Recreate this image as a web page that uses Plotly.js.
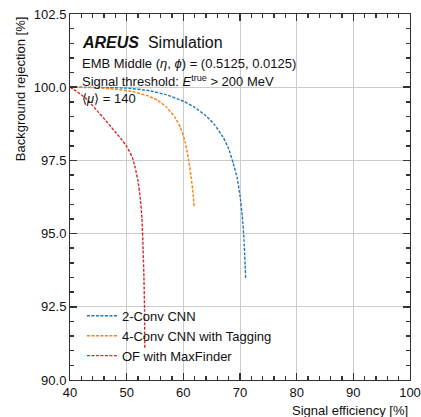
<!DOCTYPE html>
<html><head><meta charset="utf-8">
<script src="https://cdn.plot.ly/plotly-3.0.1.min.js"></script>
<style>html,body{margin:0;padding:0;background:#fff}#chart{width:421px;height:417px}</style>
</head><body><div id="chart"></div>
<script>
const seriesNames = ["2-Conv CNN", "4-Conv CNN with Tagging", "OF with MaxFinder"];
const seriesColors = ["#1f77b4", "#ff7f0e", "#d62728"];
const effConv2 = [40, 45, 50, 54, 57, 60, 62, 64, 65.5, 67, 68, 68.8, 69.5, 70, 70.4, 70.7, 71.0];
const rejConv2 = [100, 99.99, 99.97, 99.88, 99.74, 99.52, 99.31, 99.02, 98.72, 98.3, 97.9, 97.4, 96.9, 96.3, 95.6, 94.8, 93.45];
const effConv4 = [40, 45, 48, 51, 53.5, 55.5, 57, 58.5, 59.5, 60.3, 60.9, 61.4, 61.7, 61.9];
const rejConv4 = [100, 99.98, 99.93, 99.85, 99.72, 99.55, 99.32, 98.98, 98.62, 98.15, 97.55, 96.9, 96.4, 95.94];
const effOF = [40, 41, 42, 43, 44, 45, 46, 47, 48, 49, 50, 51, 51.5, 52, 52.4, 52.7, 52.9, 53.05, 53.15, 53.2];
const rejOF = [100, 99.88, 99.74, 99.58, 99.37, 99.15, 98.93, 98.7, 98.47, 98.24, 97.98, 97.6, 97.25, 96.8, 96.2, 95.5, 94.45, 93.5, 92.4, 91.1];
const xTitle = "Signal efficiency [%]";
const yTitle = "Background rejection [%]";
const infoLines = [
  '<b><i>AREUS</i></b>  Simulation',
  'EMB Middle (<i>η</i>, <i>ϕ</i>) = (0.5125, 0.0125)',
  'Signal threshold: <i>E</i><sup>true</sup> &gt; 200 MeV',
  '⟨<i>μ</i>⟩ = 140'
];

const xs = [effConv2, effConv4, effOF], ys = [rejConv2, rejConv4, rejOF];
const traces = xs.map((x, i) => ({
  x: x, y: ys[i], type: 'scatter', mode: 'lines', name: seriesNames[i],
  line: {color: seriesColors[i], width: 1.4, dash: '3px,1.5px', shape: 'spline', smoothing: 0.4}
}));
const F = 'Liberation Sans, Arial, sans-serif';
const titleAnns = [
  {xref: 'paper', yref: 'paper', x: 1, y: -0.057, xanchor: 'right', yanchor: 'top', showarrow: false,
   text: xTitle, font: {family: F, size: 13, color: '#111'}},
  {xref: 'paper', yref: 'paper', x: -0.145, y: 1, xanchor: 'center', yanchor: 'top', textangle: -90, showarrow: false,
   text: yTitle, font: {family: F, size: 13, color: '#111'}}
];
const infoY = [0.923, 0.866, 0.817, 0.77];
const infoSize = [16, 13, 13, 13];
const infoAnns = infoLines.map((t, i) => ({
  xref: 'paper', yref: 'paper', x: 0.03, y: infoY[i], xanchor: 'left', yanchor: 'middle', showarrow: false,
  text: t, font: {family: F, size: infoSize[i], color: '#111'}
}));
const layout = {
  width: 421, height: 417,
  margin: {l: 70, r: 11, t: 14, b: 37},
  paper_bgcolor: '#fff', plot_bgcolor: '#fff',
  font: {family: F, color: '#111'},
  showlegend: true,
  legend: {x: 0.035, y: 0.025, xanchor: 'left', yanchor: 'bottom', bgcolor: 'rgba(0,0,0,0)',
    font: {family: F, size: 13, color: '#111'}, tracegroupgap: 2, itemwidth: 30},
  xaxis: {range: [40, 100], dtick: 10, tick0: 40,
    showline: true, mirror: 'allticks', linecolor: '#333', linewidth: 1,
    ticks: 'inside', ticklen: 7, tickwidth: 1.5, tickcolor: '#333',
    showgrid: true, gridcolor: '#cccccc', gridwidth: 1, zeroline: false,
    tickfont: {family: F, size: 13, color: '#111'},
    minor: {dtick: 2, ticks: 'inside', ticklen: 4, tickwidth: 1.5, tickcolor: '#333', showgrid: false}},
  yaxis: {range: [90, 102.5], dtick: 2.5, tick0: 90, tickformat: '.1f',
    showline: true, mirror: 'allticks', linecolor: '#333', linewidth: 1,
    ticks: 'inside', ticklen: 7, tickwidth: 1.5, tickcolor: '#333',
    showgrid: true, gridcolor: '#cccccc', gridwidth: 1, zeroline: false,
    tickfont: {family: F, size: 13, color: '#111'},
    minor: {dtick: 0.5, ticks: 'inside', ticklen: 4, tickwidth: 1.5, tickcolor: '#333', showgrid: false}},
  annotations: titleAnns.concat(infoAnns)
};
Plotly.newPlot('chart', traces, layout, {displayModeBar: false, staticPlot: true});
</script></body></html>
